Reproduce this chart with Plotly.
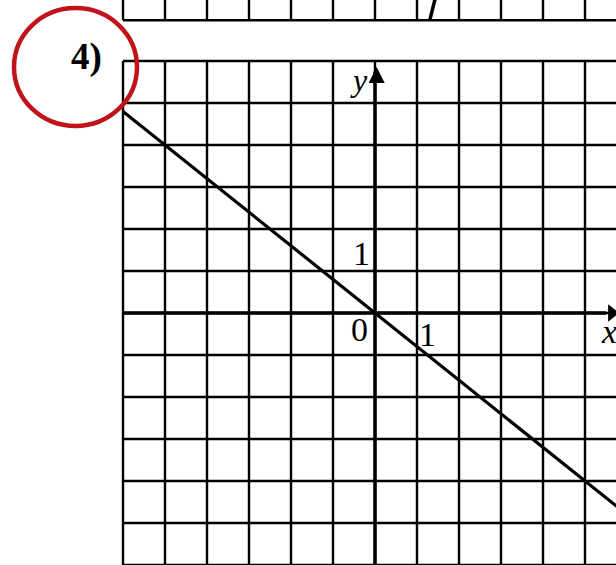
import plotly.graph_objects as go

# one grid square = 1 unit
grid_x = [-6, -5, -4, -3, -2, -1, 0, 1, 2, 3, 4, 5, 6]
grid_y = [-6, -5, -4, -3, -2, -1, 0, 1, 2, 3, 4, 5, 6]

# graph of y = -0.8x, taken at the ends of the grid
line_x = [-6, 6]
line_y = [4.8, -4.8]

# bottom edge of the previous exercise's grid, cut off at the top
strip_bottom = 6.97
strip_top = 7.6
strip_mark_x = [1.46, 1.31]
strip_mark_y = [7.6, 6.99]

tick_text = ['0', '1', '1']
tick_x = [-0.36, 1.24, -0.31]
tick_y = [-0.4, -0.5, 1.42]

X_MIN, X_MAX = -375 / 42, 241 / 42
Y_MIN, Y_MAX = -6, 313 / 42


def segments(xs_list, ys_list):
    xs, ys = [], []
    for a, b in zip(xs_list, ys_list):
        xs += list(a) + [None]
        ys += list(b) + [None]
    return xs, ys


fig = go.Figure()

# main grid
gx, gy = segments(
    [[v, v] for v in grid_x] + [[grid_x[0], grid_x[-1]] for _ in grid_y],
    [[grid_y[0], grid_y[-1]] for _ in grid_x] + [[v, v] for v in grid_y],
)
fig.add_trace(go.Scatter(x=gx, y=gy, mode='lines',
                         line=dict(color='black', width=2.4), hoverinfo='skip'))

# strip above
sx, sy = segments(
    [[v, v] for v in grid_x] + [[grid_x[0], grid_x[-1]]],
    [[strip_bottom, strip_top] for _ in grid_x] + [[strip_bottom, strip_bottom]],
)
fig.add_trace(go.Scatter(x=sx, y=sy, mode='lines',
                         line=dict(color='black', width=2.4), hoverinfo='skip'))
fig.add_trace(go.Scatter(x=strip_mark_x, y=strip_mark_y, mode='lines',
                         line=dict(color='black', width=3.5), hoverinfo='skip'))

# axes
fig.add_trace(go.Scatter(x=[grid_x[0], 5.5, None, 0, 0], y=[0, 0, None, grid_y[0], 5.75],
                         mode='lines', line=dict(color='black', width=3.5),
                         hoverinfo='skip'))
fig.add_trace(go.Scatter(x=[0.04], y=[5.86], mode='markers',
                         marker=dict(symbol='arrow-up', size=16, color='black',
                                     line=dict(width=0)),
                         hoverinfo='skip'))
fig.add_trace(go.Scatter(x=[5.64], y=[0], mode='markers',
                         marker=dict(symbol='triangle-right', size=15, color='black'),
                         hoverinfo='skip'))

# the line
fig.add_trace(go.Scatter(x=line_x, y=line_y, mode='lines',
                         line=dict(color='black', width=3.2), hoverinfo='skip'))

serif = 'Liberation Serif'
for t, x, y in zip(tick_text, tick_x, tick_y):
    fig.add_annotation(x=x, y=y, text=t, showarrow=False,
                       font=dict(family=serif, size=34, color='black'))
fig.add_annotation(x=-0.38, y=5.55, text='<i>y</i>', showarrow=False,
                   font=dict(family=serif, size=32, color='black'))
fig.add_annotation(x=5.58, y=-0.45, text='<i>x</i>', showarrow=False,
                   font=dict(family=serif, size=34, color='black'))
fig.add_annotation(x=-6.88, y=6.1, text='<b>4)</b>', showarrow=False,
                   font=dict(family=serif, size=37, color='black'))

# red circle round the exercise number
fig.add_shape(type='circle', xref='x', yref='y',
              x0=(14 - 375) / 42, x1=(137 - 375) / 42,
              y0=(313 - 126) / 42, y1=(313 - 8) / 42,
              line=dict(color='#c0131a', width=4.5))

fig.update_layout(
    width=616, height=565,
    margin=dict(l=0, r=0, t=0, b=0),
    paper_bgcolor='white', plot_bgcolor='white',
    showlegend=False,
    xaxis=dict(range=[X_MIN, X_MAX], visible=False, fixedrange=True),
    yaxis=dict(range=[Y_MIN, Y_MAX], visible=False, fixedrange=True),
)

# the page's default body margin would shift the figure by 8px
fig.write_html("out.html", config={'displayModeBar': False},
               post_script="document.body.style.margin='0';"
                           "document.body.style.overflow='hidden';")
